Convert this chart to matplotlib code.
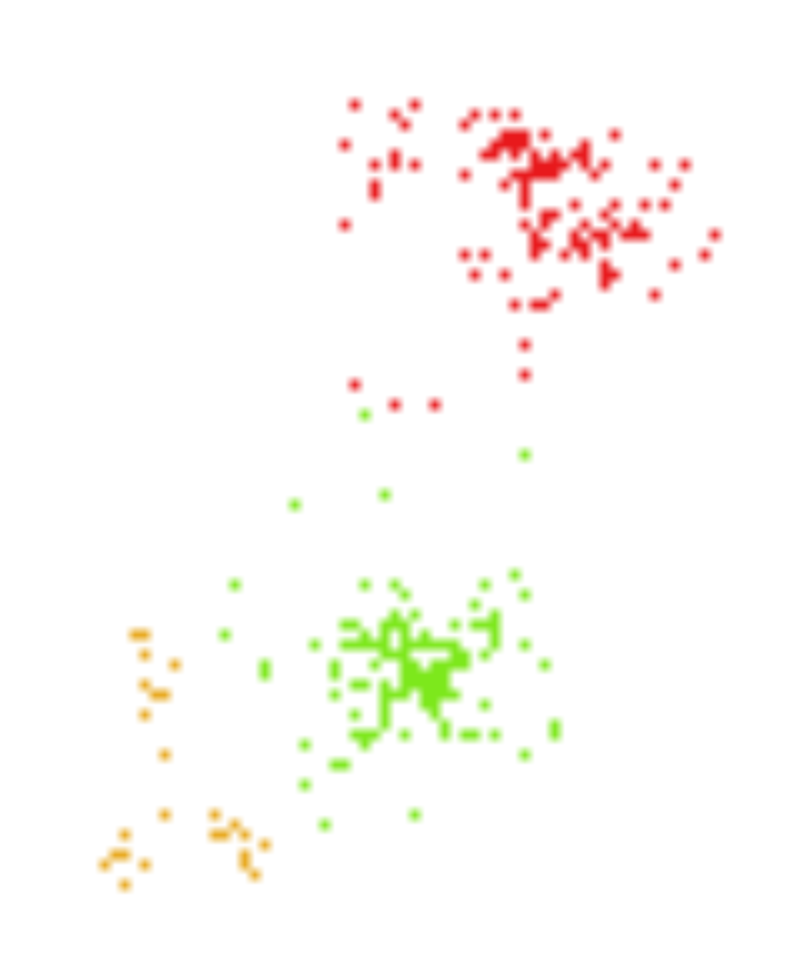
import matplotlib
matplotlib.use("Agg")
import matplotlib.pyplot as plt
import numpy as np
from matplotlib.colors import LinearSegmentedColormap

red_pts = {
    10: [35, 41], 11: [39, 47, 49, 51], 12: [40, 46],
    13: [50, 51, 52, 54, 61], 14: [34, 49, 50, 51, 52, 58],
    15: [39, 48, 49, 51, 53, 55, 57, 58], 16: [37, 39, 41, 53, 54, 55, 56, 58, 60, 65, 68],
    17: [46, 51, 52, 53, 54, 55, 59], 18: [37, 50, 52, 67], 19: [37, 52],
    20: [52, 57, 61, 64, 66], 21: [54, 55, 60], 22: [34, 52, 54, 58, 61, 63],
    23: [53, 57, 59, 60, 62, 63, 64, 71], 24: [53, 54, 57, 58, 60],
    25: [46, 48, 53, 56, 58, 70], 26: [60, 67], 27: [47, 50, 60, 61], 28: [60],
    29: [55, 65], 30: [51, 53, 54], 34: [52], 37: [52], 38: [35], 40: [39, 43],
}
green_pts = {
    41: [36], 45: [52], 49: [38], 50: [29], 57: [51], 58: [23, 36, 39, 48],
    59: [40, 52], 60: [47], 61: [39, 41, 49],
    62: [34, 35, 38, 39, 40, 45, 47, 48, 49], 63: [22, 36, 38, 40, 42, 49],
    64: [31, 34, 35, 36, 37, 38, 40, 41, 42, 43, 44, 45, 49, 52],
    65: [38, 39, 40, 45, 46, 48], 66: [26, 33, 37, 40, 41, 43, 44, 45, 46, 54],
    67: [26, 33, 40, 41, 42, 43, 44], 68: [35, 36, 38, 40, 41, 42, 43, 44],
    69: [33, 38, 39, 40, 42, 43, 44, 45], 70: [38, 42, 43, 48], 71: [35, 38, 43],
    72: [38, 44, 55], 73: [35, 36, 37, 40, 44, 46, 47, 49, 55], 74: [30, 36],
    75: [52], 76: [33, 34], 78: [30], 81: [41], 82: [32],
}
orange_pts = {
    63: [13, 14], 65: [14], 66: [17], 68: [14], 69: [15, 16], 71: [14], 75: [16],
    81: [16, 21], 82: [23], 83: [12, 21, 22, 24], 84: [26], 85: [11, 12, 24],
    86: [10, 14, 24], 87: [25], 88: [12],
}
series = [(red_pts, "#e8191c"), (green_pts, "#7de81c"), (orange_pts, "#e8a81c")]

N_COLS, N_ROWS = 81, 98
fig = plt.figure(figsize=(8.1, 9.8), dpi=100)
ax = fig.add_axes([0, 0, 1, 1])
for pts, colour in series:
    grid = np.zeros((N_ROWS, N_COLS))
    for r, cols in pts.items():
        grid[r, cols] = 1.0
    rgb = matplotlib.colors.to_rgb(colour)
    cmap = LinearSegmentedColormap.from_list("c", [(*rgb, 0.0), (*rgb, 1.0)])
    ax.imshow(grid, cmap=cmap, vmin=0, vmax=1, interpolation="bilinear",
              interpolation_stage="data", aspect="auto",
              extent=(-0.5, N_COLS - 0.5, N_ROWS - 0.5, -0.5))
ax.set_xlim(-0.5, N_COLS - 0.5)
ax.set_ylim(N_ROWS - 0.5, -0.5)
ax.axis("off")
fig.savefig("out.png", dpi=100)
